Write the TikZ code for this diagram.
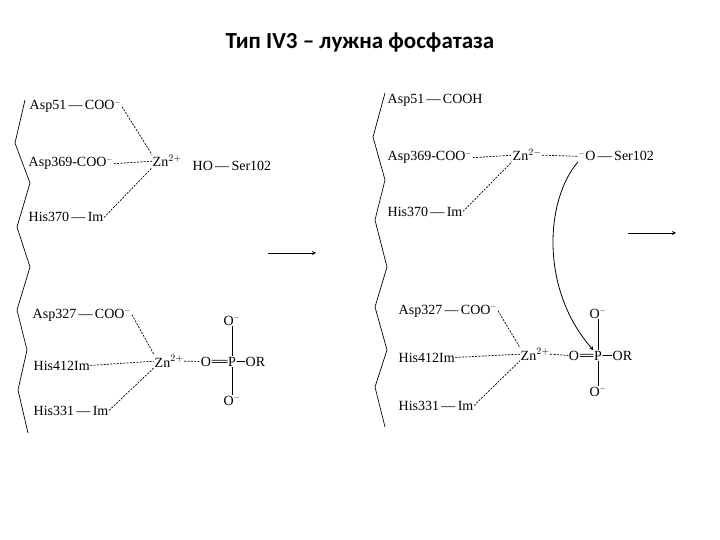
\documentclass[tikz,border=0pt]{standalone}
\usepackage{fontspec}
\setmainfont{Liberation Serif}
\newfontfamily\titlefont{Carlito}
\begin{document}
\begin{tikzpicture}[x=1pt,y=-1pt,
  lbl/.style={font=\fontsize{14}{14}\selectfont, inner sep=0.5pt, anchor=base west},
  ctr/.style={font=\fontsize{14}{14}\selectfont, inner sep=0.5pt, anchor=base},
  dot/.style={densely dashed, dash pattern=on 2pt off 1.3pt, line width=0.7pt},
  bond/.style={line width=0.8pt},
  zig/.style={line width=0.7pt}]
\useasboundingbox (0,0) rectangle (720,540);
\node[font=\titlefont\bfseries\fontsize{23}{23}\selectfont] (title) at (360,43) {Тип IV3 – лужна фосфатаза};
% zigzags
\draw[zig] (25,100)--(15,143)--(30,183)--(17,227)--(30,267)--(17,310)--(27,350)--(18,390)--(28,433);
\draw[zig] (385,93)--(373,137)--(385,180)--(375,220)--(387,267)--(375,307)--(387,350)--(375,387)--(385,427);
% ---- left
\node[lbl] (a51) at (29,110) {Asp51\,—\,COO$^{\scriptscriptstyle -}$};
\node[lbl] (a369) at (28,167) {Asp369-COO$^{\scriptscriptstyle -}$};
\node[lbl] (h370) at (28,222) {His370\,—\,Im};
\node[lbl] (zn1) at (152,167) {Zn$^{2+}$};
\node[lbl] (ser1) at (192,171) {HO\,—\,Ser102};
\draw[dot] (a51.east) -- (zn1.north west);
\draw[dot] (a369.east) -- (zn1.west);
\draw[dot] (h370.east) -- (zn1.south west);
\coordinate (ar1s) at (268,253); \coordinate (ar1e) at (316,253);
\draw[-stealth, line width=0.8pt] (ar1s) -- (ar1e);
\node[lbl] (a327) at (32,318) {Asp327\,—\,COO$^{\scriptscriptstyle -}$};
\node[lbl] (h412) at (33,370) {His412Im};
\node[lbl] (h331) at (33,415) {His331\,—\,Im};
\node[lbl] (zn2) at (154,367) {Zn$^{2+}$};
\node[ctr] (o1) at (206,366) {O};
\node[ctr] (p1) at (232,366) {P};
\node[lbl] (or1) at (245,366) {OR};
\node[ctr] (ot1) at (232,325) {O$^{\scriptscriptstyle -}$};
\node[ctr] (ob1) at (232,405) {O$^{\scriptscriptstyle -}$};
\draw[dot] (a327.east) -- (zn2.north west);
\draw[dot] (h412.east) -- (zn2.west);
\draw[dot] (h331.east) -- (zn2.south west);
\draw[dot] (zn2.east) -- (o1.west);
\draw[bond,double,double distance=1.5pt] (o1.east) -- (p1.west);
\draw[bond] (p1.east) -- (or1.west);
\draw[bond] (ot1.south) -- (p1.north);
\draw[bond] (p1.south) -- (ob1.north);
% ---- right
\node[lbl] (b51) at (387,104) {Asp51\,—\,COOH};
\node[lbl] (b369) at (387,161) {Asp369-COO$^{\scriptscriptstyle -}$};
\node[lbl] (g370) at (387,216) {His370\,—\,Im};
\node[lbl] (zn3) at (512,161) {Zn$^{2-}$};
\node[lbl] (ser2) at (578,161) {$^{\scriptscriptstyle -}$O\,—\,Ser102};
\draw[dot] (b369.east) -- (zn3.west);
\draw[dot] (zn3.east) -- (ser2.west);
\draw[dot] (g370.east) -- (zn3.south west);
\coordinate (ar2s) at (628,233); \coordinate (ar2e) at (676,233);
\draw[-stealth, line width=0.8pt] (ar2s) -- (ar2e);
\node[lbl] (b327) at (398,314) {Asp327\,—\,COO$^{\scriptscriptstyle -}$};
\node[lbl] (g412) at (398,362) {His412Im};
\node[lbl] (g331) at (398,410) {His331\,—\,Im};
\node[lbl] (zn4) at (520,360) {Zn$^{2+}$};
\node[ctr] (o2) at (574,360) {O};
\node[ctr] (p2) at (598,360) {P};
\node[lbl] (or2) at (612,360) {OR};
\node[ctr] (ot2) at (598,318) {O$^{\scriptscriptstyle -}$};
\node[ctr] (ob2) at (598,396) {O$^{\scriptscriptstyle -}$};
\draw[dot] (b327.east) -- (zn4.north west);
\draw[dot] (g412.east) -- (zn4.west);
\draw[dot] (g331.east) -- (zn4.south west);
\draw[dot] (zn4.east) -- (o2.west);
\draw[bond,double,double distance=1.5pt] (o2.east) -- (p2.west);
\draw[bond] (p2.east) -- (or2.west);
\draw[bond] (ot2.south) -- (p2.north);
\draw[bond] (p2.south) -- (ob2.north);
\draw[-stealth, line width=0.8pt] (ser2.south west) .. controls (545,200) and (540,290) .. (p2.north west);
\end{tikzpicture}
\end{document}
